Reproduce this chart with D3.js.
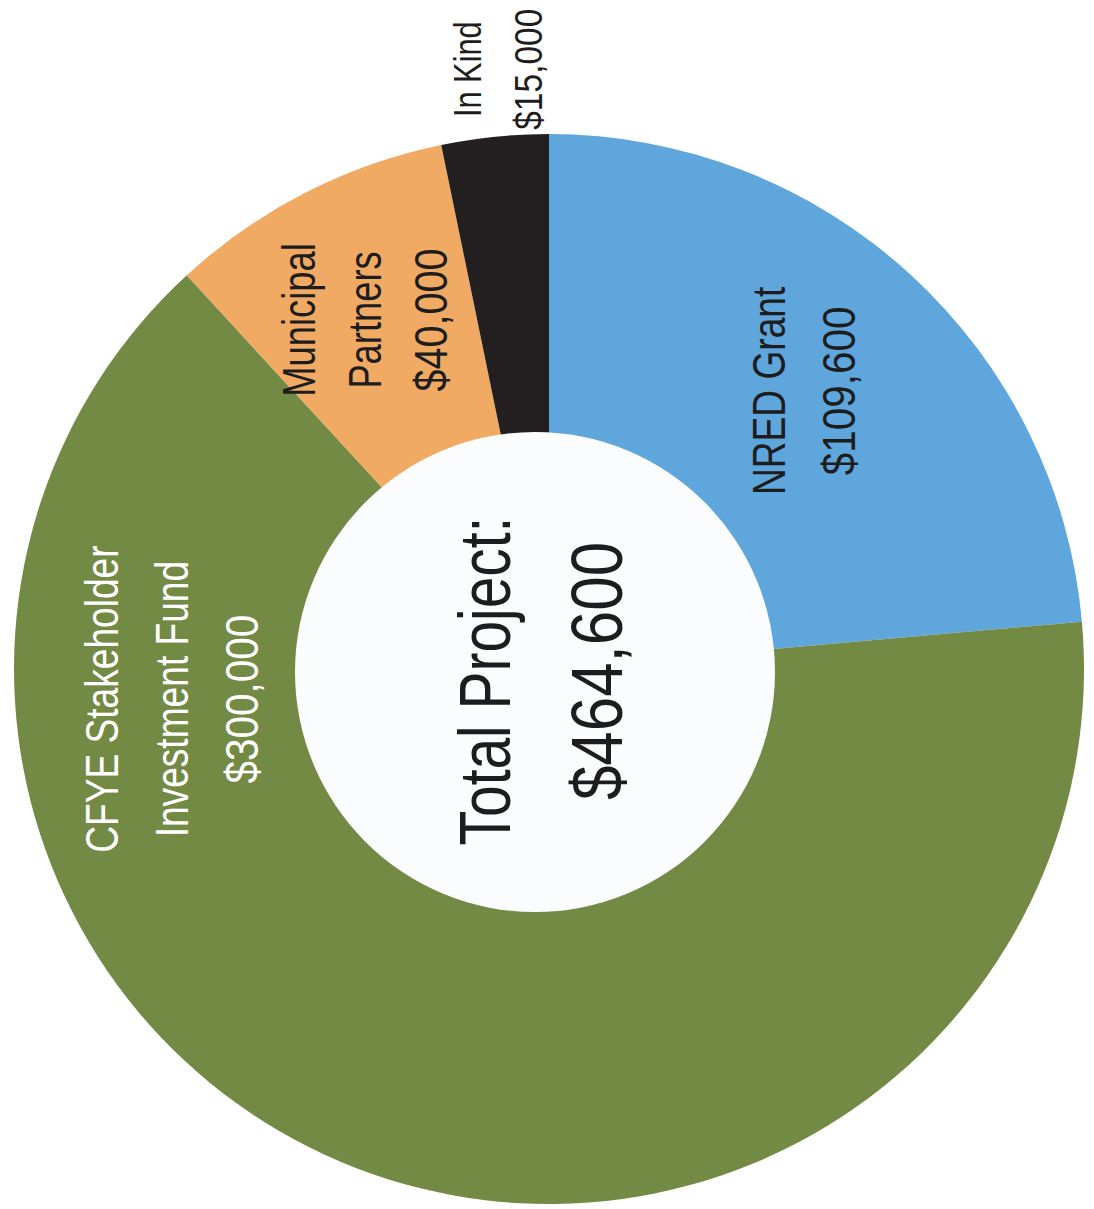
<!DOCTYPE html>
<html>
<head>
<meta charset="utf-8">
<script src="https://cdn.jsdelivr.net/npm/d3@7"></script>
<style>
  html, body { margin: 0; padding: 0; background: #fff; }
  text { font-family: "Liberation Sans", Arial, sans-serif; }
</style>
</head>
<body>
<div id="chart"></div>
<script>
// funding sources, clockwise from 12 o'clock
const categories = ["NRED Grant", "CFYE Stakeholder Investment Fund", "Municipal Partners", "In Kind"];
const values = [109600, 300000, 40000, 15000];
const labelLines = [
  ["NRED Grant", "$109,600"],
  ["CFYE Stakeholder", "Investment Fund", "$300,000"],
  ["Municipal", "Partners", "$40,000"],
  ["In Kind", "$15,000"]
];
const centerLines = ["Total Project:", "$464,600"];

const colors = ["#5ea6dc", "#738a45", "#f0aa63", "#231f20"];
const textColors = ["#1d1d1d", "#ffffff", "#1d1d1d", "#1d1d1d"];

const W = 1094, H = 1209;
const cx = 549, cy = 669, outerR = 535;
// the hole sits a little off-centre in the original
const holeX = 535, holeY = 672, holeR = 240;

// the original uses a condensed face; squeeze words more than figures
const squeeze = t => (t.startsWith("$") ? 0.86 : 0.79);

const svg = d3.select("#chart").append("svg")
  .attr("width", W).attr("height", H);

const pie = d3.pie().sort(null).value(d => d);
const arcs = pie(values);
const arc = d3.arc().innerRadius(0).outerRadius(outerR);

const g = svg.append("g").attr("transform", `translate(${cx},${cy})`);
g.selectAll("path.slice")
  .data(arcs)
  .enter()
  .append("path")
  .attr("class", "slice")
  .attr("d", arc)
  .attr("fill", (d, i) => colors[i]);

// white centre
svg.append("circle")
  .attr("cx", holeX).attr("cy", holeY).attr("r", holeR)
  .attr("fill", "#fbfcfd");

// label placement: radius from centre and angle nudge (radians)
const labelR = [377, 379, 395, 602];
const labelNudge = [0, 1.122, -0.014, 0.016];
const fontSize = [47, 47, 46, 39];
const lineGap = [70, 70, 66, 61];

function rotatedText(x, y, t, size, fill) {
  svg.append("text")
    .attr("transform", `translate(${x},${y}) rotate(-90) scale(${squeeze(t)},1)`)
    .attr("text-anchor", "middle")
    .attr("font-size", size)
    .attr("fill", fill)
    .text(t);
}

arcs.forEach((a, i) => {
  const ang = (a.startAngle + a.endAngle) / 2 + labelNudge[i];
  const lx = cx + labelR[i] * Math.sin(ang);
  const ly = cy - labelR[i] * Math.cos(ang);
  const lines = labelLines[i];
  const n = lines.length;
  const cap = fontSize[i] * 0.716;
  lines.forEach((t, j) => {
    const bx = lx + (j - (n - 1) / 2) * lineGap[i] + cap / 2;
    rotatedText(bx, ly, t, fontSize[i], textColors[i]);
  });
});

// total in the middle
const centerSize = 72;
const centerBase = [-25, 87];
const centerShift = [9, -1];
centerLines.forEach((t, j) => {
  rotatedText(holeX + centerBase[j], holeY + centerShift[j], t, centerSize, "#1d1d1d");
});
</script>
</body>
</html>
